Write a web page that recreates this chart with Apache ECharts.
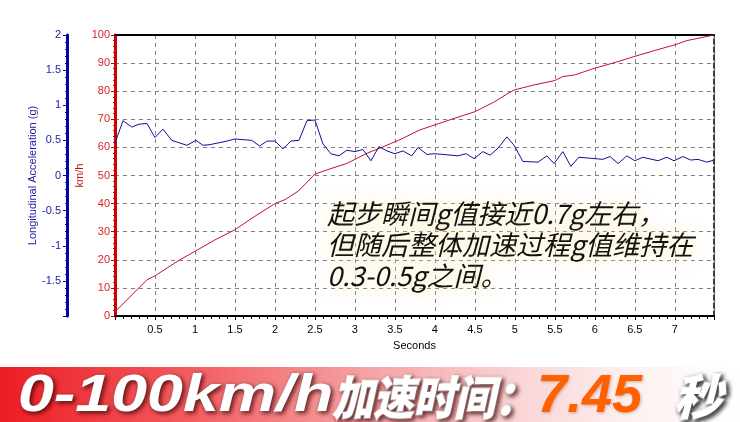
<!DOCTYPE html>
<html>
<head>
<meta charset="utf-8">
<script src="https://cdn.jsdelivr.net/npm/echarts@6/dist/echarts.min.js"></script>
<style>
html,body{margin:0;padding:0;background:#fff;}
#main{width:740px;height:422px;}
</style>
</head>
<body>
<div id="main"></div>
<script>
// ---- data ----
const timeG = [0,0.10,0.21,0.30,0.40,0.50,0.60,0.71,0.90,1.01,1.10,1.19,1.40,1.50,1.71,1.81,1.90,2.00,2.10,2.20,2.30,2.40,2.50,2.60,2.70,2.80,2.90,3.00,3.10,3.20,3.30,3.40,3.50,3.60,3.71,3.79,3.90,4.00,4.10,4.29,4.39,4.49,4.60,4.69,4.79,4.90,4.99,5.10,5.29,5.40,5.49,5.60,5.70,5.80,5.90,6.10,6.19,6.29,6.40,6.50,6.60,6.79,6.90,6.99,7.10,7.20,7.29,7.40,7.49];
const accelG = [0.46,0.78,0.69,0.73,0.74,0.54,0.66,0.50,0.43,0.50,0.43,0.44,0.49,0.52,0.50,0.42,0.49,0.49,0.38,0.49,0.50,0.78,0.79,0.45,0.31,0.28,0.36,0.34,0.37,0.21,0.41,0.35,0.31,0.35,0.28,0.40,0.30,0.31,0.30,0.28,0.31,0.24,0.34,0.29,0.39,0.55,0.43,0.20,0.19,0.28,0.17,0.34,0.13,0.26,0.25,0.23,0.27,0.17,0.28,0.21,0.26,0.21,0.26,0.21,0.27,0.22,0.23,0.19,0.22];
const timeV = [0,0.40,0.50,0.81,1.00,1.25,1.50,1.75,2.00,2.125,2.29,2.50,2.65,2.90,3.15,3.35,3.56,3.81,4.00,4.25,4.50,4.75,4.90,5.00,5.25,5.50,5.60,5.75,6.00,6.25,6.50,6.75,7.00,7.15,7.49];
const speedV = [1.5,12.9,14.3,20,23,27.1,30.7,35.5,40,41.4,44.4,50.5,52,54.3,57.9,60.2,62.7,66.2,68,70.4,72.7,76.3,79,80.5,82.3,83.8,85.2,85.8,88.2,90.2,92.4,94.5,96.5,98,100];
const xTitle = 'Seconds';
const speedTitle = 'km/h';
const accelTitle = 'Longitudinal Acceleration (g)';
const noteLines = ['起步瞬间g值接近0.7g左右，','但随后整体加速过程g值维持在','0.3-0.5g之间。'];
const bannerPre = '0-100km/h';
const bannerCn = '加速时间：';
const bannerNum = '7.45';
const bannerUnit = '秒';

const FONT = '"Liberation Sans", Arial, sans-serif';
const chart = echarts.init(document.getElementById('main'), null, {renderer:'canvas'});
const dashGrid = {show:true, lineStyle:{color:'#808080', type:[4,4], width:1}};

chart.setOption({
  animation:false,
  backgroundColor:'#fff',
  grid:{left:115, right:26, top:35, bottom:106, containLabel:false},
  xAxis:[{
    type:'value', min:0, max:7.49, interval:0.5,
    name:xTitle, nameLocation:'middle', nameGap:24, nameMoveOverlap:false,
    nameTextStyle:{color:'#000', fontSize:11, fontFamily:FONT},
    axisLine:{onZero:false, lineStyle:{color:'#000', width:2}},
    axisTick:{show:true, length:4, lineStyle:{color:'#000'}},
    minorTick:{show:true, splitNumber:5, length:3, lineStyle:{color:'#000'}},
    splitLine:dashGrid,
    axisLabel:{color:'#000', fontSize:11, fontFamily:FONT, margin:8,
      formatter:v=>(v>0 && Math.abs(v*2-Math.round(v*2))<1e-6)?String(v):''}
  },{
    type:'value', min:0, max:7.49, position:'top',
    axisLine:{show:true, onZero:false, lineStyle:{color:'#000', width:2}},
    axisTick:{show:false}, axisLabel:{show:false}, splitLine:{show:false}
  }],
  yAxis:[{
    type:'value', min:0, max:100, interval:10, position:'left', offset:0,
    name:speedTitle, nameLocation:'middle', nameGap:30, nameMoveOverlap:false,
    nameTextStyle:{color:'#cc1111', fontSize:11, fontFamily:FONT},
    axisLine:{show:true, onZero:false, lineStyle:{color:'#cc0000', width:3}},
    axisTick:{show:true, length:4, lineStyle:{color:'#cc0000'}},
    minorTick:{show:true, splitNumber:5, length:2, lineStyle:{color:'#cc0000'}},
    splitLine:dashGrid,
    axisLabel:{color:'#dd2222', fontSize:11, fontFamily:FONT, margin:5}
  },{
    type:'value', min:-2, max:2, interval:0.5, position:'left', offset:48,
    name:accelTitle, nameLocation:'middle', nameGap:29, nameMoveOverlap:false,
    nameTextStyle:{color:'#1a1aa8', fontSize:11, fontFamily:FONT},
    axisLine:{show:true, onZero:false, lineStyle:{color:'#0000aa', width:3}},
    axisTick:{show:true, length:4, lineStyle:{color:'#0000aa'}},
    minorTick:{show:true, splitNumber:5, length:2, lineStyle:{color:'#0000aa'}},
    splitLine:{show:false},
    axisLabel:{color:'#1a1aa8', fontSize:11, fontFamily:FONT, margin:6,
      formatter:v=>v<=-2?'':String(v)}
  },{
    type:'value', min:0, max:100, position:'right',
    axisLine:{show:true, onZero:false, lineStyle:{color:'#000', width:1.5, type:[5,3]}},
    axisTick:{show:false}, axisLabel:{show:false}, splitLine:{show:false}
  }],
  series:[{
    type:'line', xAxisIndex:0, yAxisIndex:0, symbol:'none',
    lineStyle:{color:'#c8102e', width:1},
    data:timeV.map((t,i)=>[t,speedV[i]]), z:3
  },{
    type:'line', xAxisIndex:0, yAxisIndex:1, symbol:'none',
    lineStyle:{color:'#101096', width:1},
    data:timeG.map((t,i)=>[t,accelG[i]]), z:4
  }],
  graphic:[
    {type:'text', x:327, y:198, z:20, style:{
      text:noteLines.join('\n'), lineHeight:31,
      font:'italic 27px "Noto Sans CJK SC", sans-serif', fill:'#111',
      textShadowColor:'#fff0a0', textShadowBlur:16 }},
    {type:'rect', z:10, shape:{x:0,y:367,width:740,height:55}, style:{
      fill:{type:'linear', x:0,y:0,x2:1,y2:0, colorStops:[
        {offset:0,color:'#ee1c24'},{offset:0.25,color:'#f25a5e'},
        {offset:0.5,color:'#f5a3a5'},{offset:0.7,color:'#f9d4d5'},
        {offset:0.85,color:'#fdf0f0'},{offset:1,color:'#ffffff'}]}}},
    {type:'text', z:11, x:18, y:397, scaleX:1.24, style:{
      text:bannerPre, font:'italic 900 52px "Liberation Sans", Arial, sans-serif',
      fill:'#fff', textVerticalAlign:'middle', stroke:'rgba(150,150,150,0.6)', lineWidth:1,
      textShadowColor:'rgba(60,0,0,0.75)', textShadowBlur:4, textShadowOffsetX:2, textShadowOffsetY:2}},
    {type:'text', z:11, x:333, y:398, scaleX:0.88, style:{
      text:bannerCn, font:'italic 900 46px "Noto Sans CJK SC", sans-serif',
      fill:'#fff', textVerticalAlign:'middle', stroke:'#fff', lineWidth:2,
      textShadowColor:'rgba(60,0,0,0.75)', textShadowBlur:4, textShadowOffsetX:2, textShadowOffsetY:2}},
    {type:'text', z:11, x:537, y:397, style:{
      text:bannerNum, font:'italic bold 54px "Liberation Sans", Arial, sans-serif',
      fill:'#ff6000', textVerticalAlign:'middle',
      textShadowColor:'rgba(120,40,0,0.35)', textShadowBlur:3, textShadowOffsetX:1, textShadowOffsetY:1}},
    {type:'text', z:11, x:674, y:397, style:{
      text:bannerUnit, font:'italic 900 48px "Noto Sans CJK SC", sans-serif',
      fill:'#fff', textVerticalAlign:'middle', stroke:'#fff', lineWidth:2,
      textShadowColor:'rgba(0,0,0,0.8)', textShadowBlur:4, textShadowOffsetX:2, textShadowOffsetY:2}}
  ]
});
</script>
</body>
</html>
